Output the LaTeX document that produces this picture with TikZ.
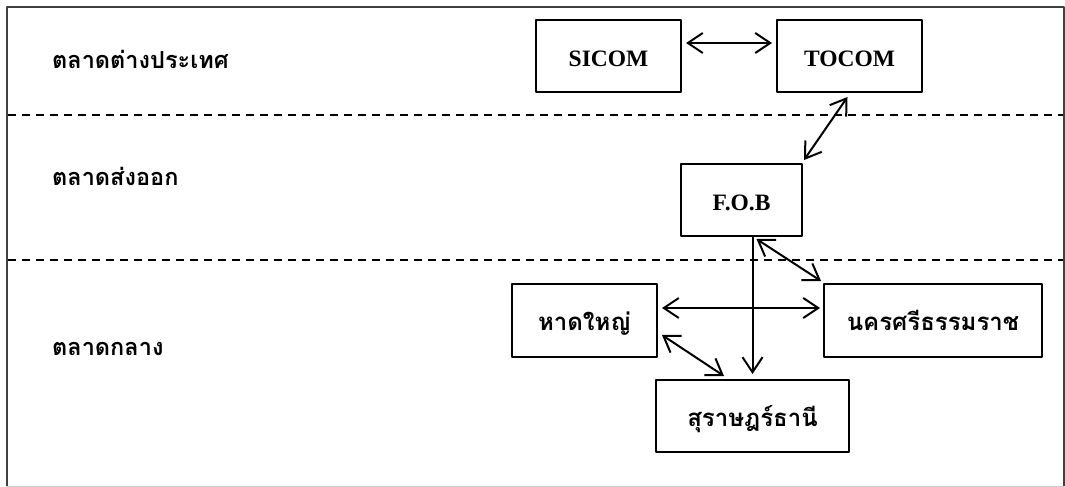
\documentclass[tikz,border=0pt]{standalone}
\usepackage{fontspec}
\setmainfont{Liberation Serif}
\newfontfamily\thaifont[Script=Thai]{Loma}
\usetikzlibrary{arrows.meta}
\begin{document}
\begin{tikzpicture}[x=1pt, y=-1pt, >={Straight Barb[length=15pt,width=20pt]}, line join=round, line cap=round,
    box/.style={draw, line width=2pt, inner sep=0pt, text height=21pt, text depth=0pt, font=\bfseries\fontsize{23.5}{23.5}\selectfont},
    thaibox/.style={box, text height=20pt, font=\thaifont\bfseries\fontsize{24}{24}\selectfont},
    market/.style={anchor=base west, inner sep=0pt, font=\thaifont\bfseries\fontsize{23.5}{23.5}\selectfont},
    link/.style={<->, line width=2pt}]
\useasboundingbox (0,0) rectangle (1065,487);
% frame
\draw[black!20, line width=1pt] (7,486) -- (1064,486);
\draw[black!75, line width=2.5pt, line cap=butt] (7,486) -- (7,7) -- (1064,7) -- (1064,486);
% levels
\draw[dash pattern=on 8pt off 6pt, line width=2pt, line cap=butt] (8,115) -- (1063,115);
\draw[dash pattern=on 8pt off 6pt, line width=2pt, line cap=butt] (8,260) -- (1063,260);
\node[market] (foreign) at (52,68) {ตลาดต่างประเทศ};
\node[market] (export) at (52,185) {ตลาดส่งออก};
\node[market] (central) at (52,355) {ตลาดกลาง};
% boxes
\node[box, minimum width=145pt, minimum height=72pt] (sicom) at (608.5,56) {SICOM};
\node[box, minimum width=145pt, minimum height=72pt] (tocom) at (849.5,56) {TOCOM};
\node[box, minimum width=121pt, minimum height=72pt] (fob) at (741.5,200) {F.O.B};
\node[thaibox, minimum width=145pt, minimum height=73pt] (hatyai) at (584.5,320.5) {หาดใหญ่};
\node[thaibox, minimum width=218pt, minimum height=73pt] (naksi) at (933,320.5) {นครศรีธรรมราช};
\node[thaibox, minimum width=193pt, minimum height=72pt] (surat) at (752.5,416) {สุราษฎร์ธานี};
% links
\draw[link] ([shift={(4,-13)}]sicom.east) -- ([shift={(-4,-13)}]tocom.west);
\draw[link] ([shift={(1,-3)}]fob.north east) -- ([shift={(-2,4)}]tocom.south);
\draw[link] ([shift={(15,2)}]fob.south) -- ([shift={(-2,-2)}]naksi.north west);
\draw[->, line width=2pt] (surat.north |- fob.south) -- ([shift={(0,-5)}]surat.north);
\draw[link] ([shift={(4,-12.5)}]hatyai.east) -- ([shift={(-3,-12.5)}]naksi.west);
\draw[link] ([shift={(4,14.5)}]hatyai.east) -- ([shift={(-28.5,-3)}]surat.north);
\end{tikzpicture}
\end{document}
